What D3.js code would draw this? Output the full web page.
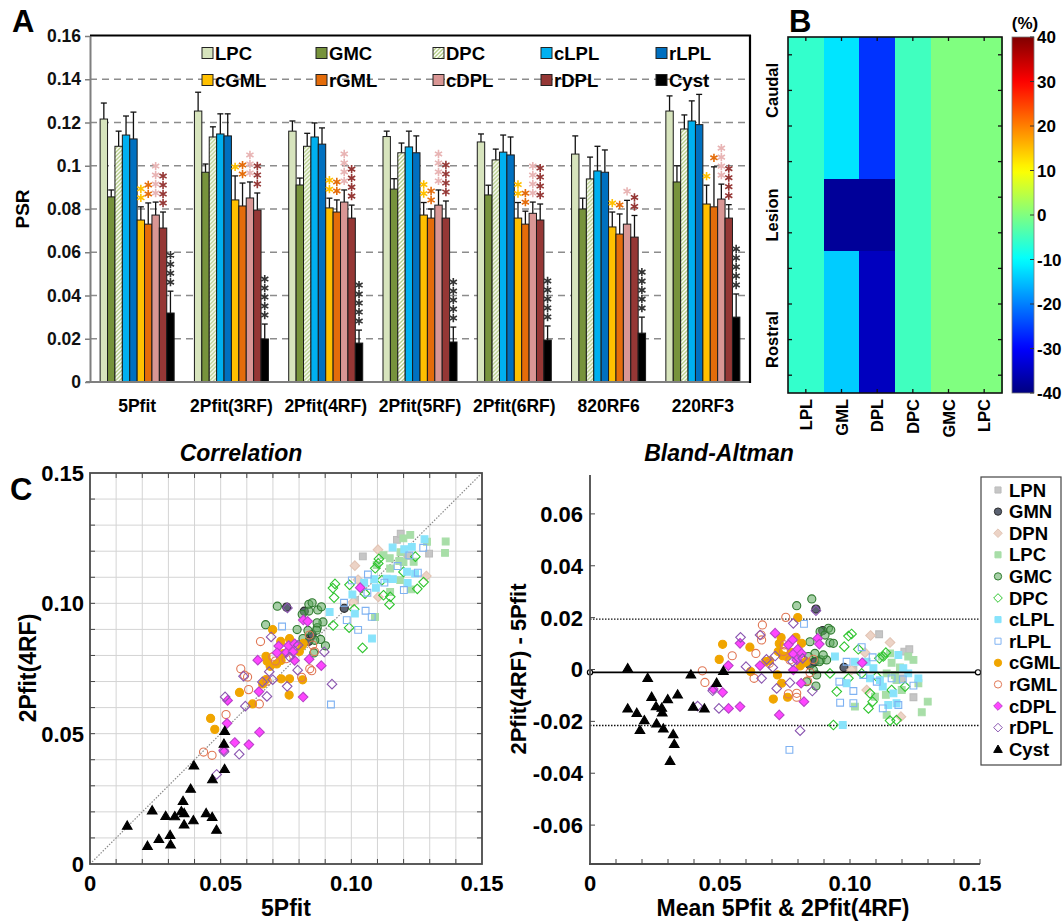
<!DOCTYPE html>
<html><head><meta charset="utf-8">
<script src="https://cdn.jsdelivr.net/npm/d3@7"></script>
<style>
body{margin:0;background:#fff}
svg{display:block;font-family:"Liberation Sans",Arial,sans-serif;font-weight:bold}
</style></head><body>
<svg id="fig" width="1063" height="924"></svg>
<script>
// ---------------- Panel A: PSR by fitting method ----------------
const methods = ["5Pfit","2Pfit(3RF)","2Pfit(4RF)","2Pfit(5RF)","2Pfit(6RF)","820RF6","220RF3"];
const regions = ["LPC","GMC","DPC","cLPL","rLPL","cGML","rGML","cDPL","rDPL","Cyst"];
const psrLPC  = [0.1216,0.1253,0.1160,0.1135,0.1110,0.1054,0.1253];
const psrGMC  = [0.0856,0.0970,0.0911,0.0892,0.0865,0.0800,0.0925];
const psrDPC  = [0.1090,0.1133,0.1090,0.1060,0.1027,0.0939,0.1170];
const psrCLPL = [0.1142,0.1147,0.1133,0.1087,0.1063,0.0976,0.1207];
const psrRLPL = [0.1124,0.1138,0.1100,0.1060,0.1050,0.0970,0.1190];
const psrCGML = [0.0749,0.0842,0.0805,0.0772,0.0758,0.0717,0.0823];
const psrRGML = [0.0730,0.0814,0.0786,0.0758,0.0730,0.0684,0.0810];
const psrCDPL = [0.0772,0.0851,0.0832,0.0818,0.0780,0.0730,0.0846];
const psrRDPL = [0.0712,0.0795,0.0758,0.0758,0.0749,0.0670,0.0758];
const psrCyst = [0.0319,0.0199,0.0180,0.0185,0.0194,0.0226,0.0300];
const sdLPC  = [0.0074,0.0087,0.0047,0.0025,0.0037,0.0084,0.0070];
const sdGMC  = [0.0032,0.0038,0.0032,0.0048,0.0045,0.0050,0.0075];
const sdDPC  = [0.0070,0.0047,0.0060,0.0045,0.0050,0.0101,0.0065];
const sdCLPL = [0.0088,0.0093,0.0065,0.0073,0.0079,0.0114,0.0093];
const sdRLPL = [0.0124,0.0102,0.0075,0.0078,0.0083,0.0103,0.0140];
const sdCGML = [0.0061,0.0111,0.0045,0.0058,0.0072,0.0069,0.0087];
const sdRGML = [0.0098,0.0106,0.0056,0.0042,0.0060,0.0093,0.0185];
const sdCDPL = [0.0060,0.0074,0.0056,0.0070,0.0052,0.0110,0.0069];
const sdRDPL = [0.0074,0.0079,0.0060,0.0079,0.0074,0.0100,0.0062];
const sdCyst = [0.0101,0.0069,0.0060,0.0069,0.0065,0.0074,0.0107];
// number of significance asterisks per method
const sigCGML = [2,1,2,2,2,1,1];
const sigRGML = [2,2,2,2,2,1,1];
const sigCDPL = [4,3,4,4,4,1,4];
const sigRDPL = [4,3,4,4,4,2,4];
const sigCyst = [4,5,5,5,5,5,5];
const psrTicks = [0,0.02,0.04,0.06,0.08,0.10,0.12,0.14,0.16];

// ---------------- Panel B: percent change map ----------------
const heatCols = ["LPL","GML","DPL","DPC","GMC","LPC"];
const heatRowLabels = ["Caudal","Lesion","Rostral"];
const heatRowLabelPos = [1.5,5,8.5];
const chgLPL = [-6,-6,-6,-6,-6,-6,-6,-6,-6,-6];
const chgGML = [-12,-12,-12,-12,-38,-38,-14,-14,-14,-14];
const chgDPL = [-26,-26,-26,-26,-38,-38,-35,-35,-35,-35];
const chgDPC = [-5,-5,-5,-5,-5,-5,-5,-5,-5,-5];
const chgGMC = [0,0,0,0,0,0,0,0,0,0];
const chgLPC = [0,0,0,0,0,0,0,0,0,0];
const cbarTicks = [40,30,20,10,0,-10,-20,-30,-40];

// ---------------- Panel C: [mean, difference] of 5Pfit & 2Pfit(4RF) ----------------
const baLPN = [[0.1112,0.0136],[0.1209,0.0069],[0.1228,0.0078],[0.1199,-0.0034],[0.1244,-0.0107],[0.1013,-0.0002]];
const baGMN = [[0.0869,0.0233],[0.0895,0.0150],[0.0856,0.0026],[0.0977,0.0008],[0.0846,0.0017],[0.0865,0.0030]];
const baDPN = [[0.1079,0.0131],[0.1154,0.0104],[0.1058,0.0065],[0.1064,-0.0079],[0.1006,-0.0002],[0.1196,-0.0182]];
const baLPC = [[0.1019,-0.0143],[0.1122,0.0050],[0.1160,0.0026],[0.1141,-0.0175],[0.1192,0.0008],[0.1224,0.0050],
  [0.1244,0.0037],[0.1276,-0.0165],[0.1299,-0.0124],[0.1199,-0.0079],[0.1141,-0.0015],[0.1173,-0.0021],
  [0.1138,-0.0098],[0.1263,-0.0053],[0.1096,-0.0105],[0.1154,0.0062],[0.1179,-0.0041]];
const baGMC = [[0.0795,0.0246],[0.0853,0.0272],[0.0846,0.0107],[0.0865,0.0062],[0.0885,0.0146],[0.0904,0.0133],
  [0.0917,0.0159],[0.0926,0.0152],[0.0923,0.0103],[0.0936,0.0101],[0.0888,0.0037],[0.0872,-0.0021],
  [0.0910,0.0037],[0.0882,0.0030],[0.0869,-0.0064],[0.0840,0.0050],[0.0897,0.0056],[0.0859,-0.0002],[0.0833,-0.0047]];
const baDPC = [[0.0923,-0.0015],[0.0949,-0.0085],[0.0936,-0.0214],[0.0978,0.0088],[0.0994,0.0129],[0.1006,0.0137],
  [0.1032,0.0078],[0.1045,-0.0015],[0.1071,-0.0150],[0.1077,-0.0092],[0.1087,-0.0124],[0.1103,-0.0028],
  [0.1128,0.0050],[0.1138,0.0065],[0.1160,-0.0079],[0.1179,-0.0195],[0.1154,-0.0197],[0.1212,-0.0066],
  [0.0994,-0.0034],[0.1113,0.0043]];
const baCLPL = [[0.0942,0.0050],[0.0987,-0.0053],[0.0972,-0.0214],[0.1019,0.0030],[0.1064,0.0030],[0.1090,0.0005],
  [0.1126,-0.0066],[0.1147,-0.0137],[0.1186,0.0056],[0.1179,-0.0130],[0.1224,-0.0015],[0.1263,-0.0034],
  [0.1077,-0.0034],[0.1115,-0.0041],[0.1167,-0.0092],[0.1205,0.0005]];
const baRLPL = [[0.0823,0.0176],[0.0767,-0.0310],[0.0959,-0.0047],[0.0962,-0.0128],[0.1013,-0.0083],[0.1013,-0.0130],
  [0.1045,0.0086],[0.1051,-0.0021],[0.1087,0.0047],[0.1126,-0.0150],[0.1160,-0.0034],[0.1186,-0.0137],
  [0.1203,-0.0038],[0.1244,-0.0062],[0.0987,0.0030],[0.1103,-0.0047]];
const baCGML = [[0.0510,0.0097],[0.0497,0.0039],[0.0615,0.0086],[0.0618,-0.0008],[0.0676,0.0030],[0.0690,0.0034],
  [0.0705,-0.0114],[0.0728,0.0100],[0.0735,0.0123],[0.0724,0.0069],[0.0741,0.0053],[0.0721,-0.0021],
  [0.0737,-0.0053],[0.0760,-0.0107],[0.0792,0.0124],[0.0799,0.0200],[0.0814,0.0101],[0.0824,0.0026],
  [0.0831,0.0030],[0.0774,0.0066],[0.0756,0.0050],[0.0808,0.0014]];
const baRGML = [[0.0432,-0.0005],[0.0442,-0.0050],[0.0547,0.0053],[0.0638,0.0062],[0.0631,-0.0034],[0.0660,0.0114],
  [0.0663,0.0172],[0.0658,0.0133],[0.0753,0.0201],[0.0744,0.0069],[0.0763,-0.0094],[0.0795,-0.0107],
  [0.0795,-0.0092],[0.0837,-0.0044],[0.0846,-0.0012],[0.0747,0.0095],[0.0690,0.0024],[0.0769,0.0037],
  [0.0814,0.0047],[0.0859,0.0039]];
const baCDPL = [[0.0474,-0.0075],[0.0510,-0.0088],[0.0532,0.0015],[0.0533,-0.0150],[0.0577,0.0101],[0.0577,-0.0143],
  [0.0654,0.0015],[0.0712,0.0140],[0.0728,-0.0175],[0.0779,0.0114],[0.0782,0.0060],[0.0782,-0.0002],
  [0.0799,0.0078],[0.0814,0.0062],[0.0823,-0.0124],[0.0812,-0.0053],[0.0876,0.0120],[0.0882,0.0098],
  [0.1047,0.0026],[0.0763,0.0095],[0.0795,0.0037]];
const baRDPL = [[0.0414,-0.0141],[0.0472,-0.0082],[0.0496,-0.0150],[0.0579,0.0124],[0.0600,0.0011],[0.0654,0.0133],
  [0.0660,-0.0034],[0.0703,0.0008],[0.0712,0.0052],[0.0718,-0.0073],[0.0769,-0.0051],[0.0782,0.0178],
  [0.0779,0.0030],[0.0808,-0.0236],[0.0818,0.0043],[0.0855,-0.0083],[0.0869,0.0227],[0.0679,0.0039]];
const baCyst = [[0.0145,0.0005],[0.0222,-0.0032],[0.0388,-0.0019],[0.0487,-0.0051],[0.0513,-0.0005],[0.0237,-0.0105],
  [0.0299,-0.0114],[0.0337,-0.0096],[0.0145,-0.0150],[0.0180,-0.0167],[0.0209,-0.0195],[0.0254,-0.0141],
  [0.0276,-0.0147],[0.0278,-0.0165],[0.0256,-0.0208],[0.0192,-0.0233],[0.0282,-0.0227],[0.0320,-0.0249],
  [0.0324,-0.0287],[0.0308,-0.0352],[0.0397,-0.0143],[0.0440,-0.0150]];
const baBias = -0.0011, baUpper = 0.0194, baLower = -0.0216;
const corrTicks = [0,0.05,0.10,0.15];
const baYTicks = [0.06,0.04,0.02,0,-0.02,-0.04,-0.06];

const svg = d3.select("#fig");
const defs = svg.append("defs");
const fmtPsr = d => String(+d.toFixed(2));

// panel letters
[["A",12,32],["B",789,32],["C",10,500]].forEach(([t,x,y]) =>
  svg.append("text").attr("x",x).attr("y",y).attr("font-size",31).text(t));

// ===== Panel A =====
const hatch = defs.append("pattern").attr("id","hatch").attr("patternUnits","userSpaceOnUse")
  .attr("width",4).attr("height",4);
hatch.append("rect").attr("width",4).attr("height",4).attr("fill","#fff");
hatch.append("path").attr("d","M-1,1l2,-2M0,4l4,-4M3,5l2,-2").attr("stroke","#b3cc85").attr("stroke-width",1.4);

const regionFill = {LPC:"#d7e4bd",GMC:"#77933c",DPC:"url(#hatch)",cLPL:"#00b0f0",rLPL:"#0070c0",
  cGML:"#ffc000",rGML:"#e46c0a",cDPL:"#d99694",rDPL:"#953735",Cyst:"#000000"};
const psr = {LPC:psrLPC,GMC:psrGMC,DPC:psrDPC,cLPL:psrCLPL,rLPL:psrRLPL,cGML:psrCGML,rGML:psrRGML,cDPL:psrCDPL,rDPL:psrRDPL,Cyst:psrCyst};
const sd  = {LPC:sdLPC,GMC:sdGMC,DPC:sdDPC,cLPL:sdCLPL,rLPL:sdRLPL,cGML:sdCGML,rGML:sdRGML,cDPL:sdCDPL,rDPL:sdRDPL,Cyst:sdCyst};
const sig = [["cGML",sigCGML,"#ffc000"],["rGML",sigRGML,"#e46c0a"],["cDPL",sigCDPL,"#e8b4b4"],["rDPL",sigRDPL,"#953735"],["Cyst",sigCyst,"#333"]];

const yA = d3.scaleLinear().domain([0,0.16]).range([382,36]);
const xG = d3.scaleBand().domain(methods).range([90,750]).paddingInner(0.215).paddingOuter(0.1075);
const xR = d3.scaleBand().domain(regions).range([0,xG.bandwidth()]);
const gA = svg.append("g");

gA.selectAll(".grid").data(psrTicks.slice(1,-1)).join("line")
  .attr("x1",90).attr("x2",750).attr("y1",d=>yA(d)).attr("y2",d=>yA(d))
  .attr("stroke","#8c8c8c").attr("stroke-width",1.3).attr("stroke-dasharray","7,5");

methods.forEach((m,j) => {
  const g = gA.append("g").attr("transform",`translate(${xG(m)},0)`);
  regions.forEach(r => {
    const x = xR(r), w = xR.bandwidth(), v = psr[r][j], e = sd[r][j];
    const cx = x + w/2;
    g.append("line").attr("x1",cx).attr("x2",cx).attr("y1",yA(v)).attr("y2",yA(v+e)).attr("stroke","#111").attr("stroke-width",1.3);
    g.append("line").attr("x1",cx-3).attr("x2",cx+3).attr("y1",yA(v+e)).attr("y2",yA(v+e)).attr("stroke","#111").attr("stroke-width",1.3);
    g.append("rect").attr("x",x).attr("y",yA(v)).attr("width",w).attr("height",yA(0)-yA(v))
      .attr("fill",regionFill[r]).attr("stroke","#1a1a1a").attr("stroke-width",1);
  });
  sig.forEach(([r,arr,col]) => {
    const cx = xR(r) + xR.bandwidth()/2, top = yA(psr[r][j] + sd[r][j]);
    d3.range(arr[j]).forEach(k => {
      g.append("path").attr("d",d3.symbol(d3.symbolAsterisk,48)())
        .attr("transform",`translate(${cx},${top-9-k*9})`)
        .attr("fill","none").attr("stroke",col).attr("stroke-width",1.6);
    });
  });
});

// axes and frame
const axA = gA.append("g").attr("transform","translate(90,0)")
  .call(d3.axisLeft(yA).tickValues(psrTicks).tickFormat(fmtPsr).tickSize(5).tickSizeOuter(0));
axA.select(".domain").attr("stroke","#7f7f7f").attr("stroke-width",2);
axA.selectAll(".tick line").attr("stroke","#7f7f7f").attr("stroke-width",1.5);
axA.selectAll("text").attr("font-size",17.5).attr("font-family","Liberation Sans, Arial").attr("font-weight","bold").attr("fill","#111").attr("x",-9);
gA.append("line").attr("x1",86).attr("x2",750).attr("y1",382).attr("y2",382).attr("stroke","#7f7f7f").attr("stroke-width",2);
gA.append("line").attr("x1",90).attr("x2",751).attr("y1",35.5).attr("y2",35.5).attr("stroke","#000").attr("stroke-width",2.2);
gA.append("line").attr("x1",750).attr("x2",750).attr("y1",35).attr("y2",383).attr("stroke","#000").attr("stroke-width",2.2);
gA.selectAll(".mlab").data(methods).join("text")
  .attr("x",d=>xG(d)+xG.bandwidth()/2).attr("y",412).attr("text-anchor","middle").attr("font-size",17.5).text(d=>d);
gA.append("text").attr("transform","translate(29,209) rotate(-90)").attr("text-anchor","middle").attr("font-size",19).text("PSR");

// legend (2 rows x 5 columns)
const legX = [202,316,433,541,656], legY = [53,80];
regions.forEach((r,i) => {
  const x = legX[i%5], y = legY[Math.floor(i/5)];
  gA.append("rect").attr("x",x).attr("y",y-5.5).attr("width",11).attr("height",11)
    .attr("fill",regionFill[r]).attr("stroke","#222").attr("stroke-width",1);
  gA.append("text").attr("x",x+13).attr("y",y+6.5).attr("font-size",18.5).text(r);
});

// ===== Panel B =====
const jet = t => {
  const c = v => Math.max(0,Math.min(1,v));
  return d3.rgb(255*c(1.5-Math.abs(4*t-3)),255*c(1.5-Math.abs(4*t-2)),255*c(1.5-Math.abs(4*t-1))).formatHex();
};
const cDom = [-40,40];
const tOf = d3.scaleLinear().domain(cDom).range([0,1]);
const heat = {LPL:chgLPL,GML:chgGML,DPL:chgDPL,DPC:chgDPC,GMC:chgGMC,LPC:chgLPC};
const xH = d3.scaleBand().domain(heatCols).range([788,1002]);
const yH = d3.scaleLinear().domain([0,10]).range([37,393]);
const gB = svg.append("g");
const gCells = gB.append("g").attr("shape-rendering","crispEdges");
// draw runs of equal consecutive cells as single blocks
heatCols.forEach(c => {
  const vals = heat[c];
  let start = 0;
  for (let i = 1; i <= vals.length; i++) {
    if (i === vals.length || vals[i] !== vals[start]) {
      const col = jet(tOf(vals[start]));
      gCells.append("rect").attr("x",xH(c)).attr("y",yH(start))
        .attr("width",xH.bandwidth()+0.5).attr("height",yH(i)-yH(start))
        .attr("fill",col);
      start = i;
    }
  }
});
gB.append("rect").attr("x",788).attr("y",37).attr("width",214).attr("height",356).attr("fill","none").attr("stroke","#111").attr("stroke-width",1.6);
d3.range(10).forEach(i => {
  const y = yH(i+0.5);
  gB.append("line").attr("x1",788).attr("x2",792).attr("y1",y).attr("y2",y).attr("stroke","#111").attr("stroke-width",1.3);
  gB.append("line").attr("x1",998).attr("x2",1002).attr("y1",y).attr("y2",y).attr("stroke","#111").attr("stroke-width",1.3);
});
heatCols.forEach(c => {
  const x = xH(c)+xH.bandwidth()/2;
  gB.append("line").attr("x1",x).attr("x2",x).attr("y1",37).attr("y2",41).attr("stroke","#111").attr("stroke-width",1.3);
  gB.append("line").attr("x1",x).attr("x2",x).attr("y1",389).attr("y2",393).attr("stroke","#111").attr("stroke-width",1.3);
  gB.append("text").attr("transform",`translate(${x+6},399) rotate(-90)`).attr("text-anchor","end").attr("font-size",16.5).text(c);
});
heatRowLabels.forEach((t,i) => {
  gB.append("text").attr("transform",`translate(778,${yH(heatRowLabelPos[i])}) rotate(-90)`).attr("text-anchor","middle").attr("font-size",16.5).text(t);
});
// colour bar
const grad = defs.append("linearGradient").attr("id","jetbar").attr("x1",0).attr("y1",1).attr("x2",0).attr("y2",0);
d3.range(0,1.0001,0.02).forEach(t => grad.append("stop").attr("offset",t).attr("stop-color",jet(t)));
const yCb = d3.scaleLinear().domain(cDom).range([393,37]);
gB.append("rect").attr("x",1012).attr("y",37).attr("width",22).attr("height",356).attr("fill","url(#jetbar)").attr("stroke","#777").attr("stroke-width",0.8);
cbarTicks.forEach(v => {
  gB.append("line").attr("x1",1030).attr("x2",1034).attr("y1",yCb(v)).attr("y2",yCb(v)).attr("stroke","#333");
  gB.append("text").attr("x",1037).attr("y",yCb(v)).attr("dy","0.36em").attr("font-size",17).text(v);
});
gB.append("text").attr("x",1025).attr("y",29).attr("text-anchor","middle").attr("font-size",17).text("(%)");

// ===== Panel C =====
const series = [
  {name:"LPN", data:baLPN, shape:"square", fill:"#c6c6c6", stroke:"#bcbcbc"},
  {name:"GMN", data:baGMN, shape:"circle", fill:"#5b6272", stroke:"#2b2b2b"},
  {name:"DPN", data:baDPN, shape:"diamond", fill:"#ecd3c6", stroke:"#e2c4b4"},
  {name:"LPC", data:baLPC, shape:"square", fill:"#a8dea8", stroke:"#a8dea8"},
  {name:"GMC", data:baGMC, shape:"circle", fill:"rgba(95,170,95,0.55)", stroke:"#2f7a2f"},
  {name:"DPC", data:baDPC, shape:"diamond", fill:"none", stroke:"#2fc52f"},
  {name:"cLPL", data:baCLPL, shape:"square", fill:"#88e3fb", stroke:"#88e3fb"},
  {name:"rLPL", data:baRLPL, shape:"square", fill:"none", stroke:"#7fb2f2"},
  {name:"cGML", data:baCGML, shape:"circle", fill:"#f0a500", stroke:"#f0a500"},
  {name:"rGML", data:baRGML, shape:"circle", fill:"none", stroke:"#e07654"},
  {name:"cDPL", data:baCDPL, shape:"diamond", fill:"#ff45ff", stroke:"#b844c8"},
  {name:"rDPL", data:baRDPL, shape:"diamond", fill:"none", stroke:"#8a55b0"},
  {name:"Cyst", data:baCyst, shape:"triangle", fill:"#000", stroke:"#000"}
];
const shapePath = {
  circle: d3.symbol(d3.symbolCircle,52)(),
  square: d3.symbol(d3.symbolSquare,46)(),
  diamond: "M0,-4.8L4.8,0L0,4.8L-4.8,0Z",
  triangle: "M0,-4.6L4.8,3.6L-4.8,3.6Z"
};
function drawMarker(g,s,x,y,scale=1){
  g.append("path").attr("d",shapePath[s.shape]).attr("transform",`translate(${x},${y}) scale(${scale})`)
    .attr("fill",s.fill).attr("stroke",s.stroke).attr("stroke-width",1.1);
}

// --- correlation plot ---
const xC = d3.scaleLinear().domain([0,0.15]).range([90,482]);
const yC = d3.scaleLinear().domain([0,0.15]).range([864,473]);
const gC = svg.append("g");
const minor = d3.range(1,15).map(i=>i/100);
gC.selectAll(".vg").data(minor).join("line").attr("x1",d=>xC(d)).attr("x2",d=>xC(d)).attr("y1",473).attr("y2",864).attr("stroke","#d4d4d4");
gC.selectAll(".hg").data(minor).join("line").attr("y1",d=>yC(d)).attr("y2",d=>yC(d)).attr("x1",90).attr("x2",482).attr("stroke","#d4d4d4");
gC.append("line").attr("x1",xC(0)).attr("y1",yC(0)).attr("x2",xC(0.15)).attr("y2",yC(0.15))
  .attr("stroke","#8a8a8a").attr("stroke-width",1.2).attr("stroke-dasharray","1.5,1.5");
minor.forEach(d => {
  gC.append("line").attr("x1",xC(d)).attr("x2",xC(d)).attr("y1",864).attr("y2",859).attr("stroke","#444");
  gC.append("line").attr("x1",xC(d)).attr("x2",xC(d)).attr("y1",473).attr("y2",478).attr("stroke","#444");
  gC.append("line").attr("y1",yC(d)).attr("y2",yC(d)).attr("x1",90).attr("x2",95).attr("stroke","#444");
  gC.append("line").attr("y1",yC(d)).attr("y2",yC(d)).attr("x1",482).attr("x2",477).attr("stroke","#444");
});
series.forEach(s => s.data.forEach(([m,d]) => drawMarker(gC,s,xC(m-d/2),yC(m+d/2))));
gC.append("rect").attr("x",90).attr("y",473).attr("width",392).attr("height",391).attr("fill","none").attr("stroke","#4a4a4a").attr("stroke-width",1.8);
corrTicks.forEach(v => {
  const lab = v===0 ? "0" : v.toFixed(2);
  gC.append("text").attr("x",xC(v)).attr("y",891).attr("text-anchor","middle").attr("font-size",22).text(lab);
  gC.append("text").attr("x",84).attr("y",yC(v)).attr("dy","0.36em").attr("text-anchor","end").attr("font-size",22).text(lab);
});
gC.append("text").attr("x",286).attr("y",916).attr("text-anchor","middle").attr("font-size",23).text("5Pfit");
gC.append("text").attr("transform","translate(36,668) rotate(-90)").attr("text-anchor","middle").attr("font-size",23).text("2Pfit(4RF)");
gC.append("text").attr("x",241).attr("y",461).attr("text-anchor","middle").attr("font-size",23).attr("font-style","italic").text("Correlation");

// --- Bland-Altman plot ---
const xB = d3.scaleLinear().domain([0,0.15]).range([590,980]);
const yB = d3.scaleLinear().domain([-0.075,0.075]).range([864,475]);
const gD = svg.append("g");
[baUpper,baLower].forEach(v => gD.append("line").attr("x1",590).attr("x2",979).attr("y1",yB(v)).attr("y2",yB(v))
  .attr("stroke","#111").attr("stroke-width",1.3).attr("stroke-dasharray","1.5,1.5"));
series.forEach(s => s.data.forEach(([m,d]) => drawMarker(gD,s,xB(m),yB(d))));
gD.append("line").attr("x1",590).attr("x2",978).attr("y1",yB(baBias)).attr("y2",yB(baBias)).attr("stroke","#000").attr("stroke-width",1.6);
[590,978].forEach(x => gD.append("circle").attr("cx",x).attr("cy",yB(baBias)).attr("r",2.6).attr("fill","#fff").attr("stroke","#000").attr("stroke-width",1.2));
gD.append("line").attr("x1",590).attr("x2",590).attr("y1",475).attr("y2",864).attr("stroke","#4a4a4a").attr("stroke-width",1.8);
gD.append("line").attr("x1",589).attr("x2",980).attr("y1",864).attr("y2",864).attr("stroke","#4a4a4a").attr("stroke-width",1.8);
d3.range(1,16).map(i=>i/100).forEach(d => gD.append("line").attr("x1",xB(d)).attr("x2",xB(d)).attr("y1",864).attr("y2",859).attr("stroke","#444"));
baYTicks.forEach(v => {
  gD.append("line").attr("x1",590).attr("x2",595).attr("y1",yB(v)).attr("y2",yB(v)).attr("stroke","#444");
  gD.append("text").attr("x",583).attr("y",yB(v)).attr("dy","0.36em").attr("text-anchor","end").attr("font-size",22).text(v===0?"0":v.toFixed(2));
});
corrTicks.forEach(v => gD.append("text").attr("x",xB(v)).attr("y",891).attr("text-anchor","middle").attr("font-size",22).text(v===0?"0":v.toFixed(2)));
gD.append("text").attr("x",783).attr("y",916).attr("text-anchor","middle").attr("font-size",23).text("Mean 5Pfit & 2Pfit(4RF)");
gD.append("text").attr("transform","translate(526,669) rotate(-90)").attr("text-anchor","middle").attr("font-size",22).text("2Pfit(4RF) - 5Pfit");
gD.append("text").attr("x",719).attr("y",461).attr("text-anchor","middle").attr("font-size",23).attr("font-style","italic").text("Bland-Altman");

// legend
gD.append("rect").attr("x",981).attr("y",477).attr("width",80).attr("height",288).attr("fill","#fff").attr("stroke","#444").attr("stroke-width",1.2);
series.forEach((s,i) => {
  const y = 490 + i*21.6;
  drawMarker(gD,s,998,y,0.9);
  gD.append("text").attr("x",1009).attr("y",y).attr("dy","0.36em").attr("font-size",18.5).text(s.name);
});
</script>
</body></html>
